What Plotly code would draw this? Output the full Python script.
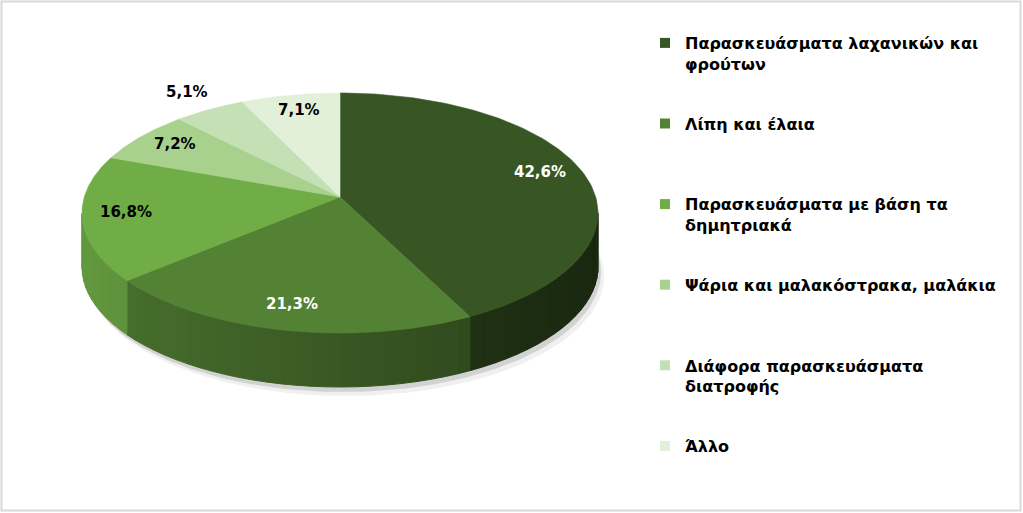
import numpy as np
import plotly.graph_objects as go

# data
categories = [
    "Παρασκευάσματα λαχανικών και<br>φρούτων",
    "Λίπη και έλαια",
    "Παρασκευάσματα με βάση τα<br>δημητριακά",
    "Ψάρια και μαλακόστρακα, μαλάκια",
    "Διάφορα παρασκευάσματα<br>διατροφής",
    "Άλλο",
]
shares = [42.6, 21.3, 16.8, 7.2, 5.1, 7.1]
colors = ["#375623", "#548235", "#70ad47", "#a9d18e", "#c5e0b4", "#e2f0d9"]

# geometry of the tilted pie, in pixels of the 1023x513 canvas
W, H = 1023, 513
CX, CY = 340, 213      # centre of the top ellipse
RX, RY = 258, 120
AX, AY = 340, 197      # where the slices meet (perspective shifts it up)
TILT = 0.465
DEPTH = 54
FONT = "DejaVu Sans"


def edge_point(t):
    """Point on the rim for a pie angle t (clockwise from 12 o'clock)."""
    dx, dy = np.sin(t), -TILT * np.cos(t)
    ox, oy = AX - CX, AY - CY
    a = (dx / RX) ** 2 + (dy / RY) ** 2
    b = 2 * (ox * dx / RX ** 2 + oy * dy / RY ** 2)
    c = (ox / RX) ** 2 + (oy / RY) ** 2 - 1
    s = (-b + np.sqrt(b * b - 4 * a * c)) / (2 * a)
    return AX + s * dx, AY + s * dy, s, dx, dy


def shade(hex_color, f):
    r, g, b = (int(hex_color[i:i + 2], 16) for i in (1, 3, 5))
    return f"rgb({int(r * f)},{int(g * f)},{int(b * f)})"


fig = go.Figure()

# soft shadow under the pie
phi = np.linspace(0, 2 * np.pi, 200)
for ox, oy, alpha in [(6, 9, 0.06), (3, 5, 0.12)]:
    fig.add_trace(go.Scatter(
        x=CX + RX * np.sin(phi) + ox, y=CY + DEPTH - RY * np.cos(phi) + oy,
        fill="toself", mode="lines", line=dict(width=0),
        fillcolor=f"rgba(0,0,0,{alpha})", hoverinfo="skip", showlegend=False,
    ))

total = sum(shares)
bounds = np.concatenate([[0], np.cumsum(shares)]) / total * 2 * np.pi

# outer side of the front half, shaded darker to the right
for i, col in enumerate(colors):
    t0, t1 = bounds[i], bounds[i + 1]
    n_chunks = max(1, int(np.ceil((t1 - t0) / np.radians(3))))
    edges = np.linspace(t0, t1, n_chunks + 1)
    for a, b in zip(edges[:-1], edges[1:]):
        ts = np.linspace(a, b, 8)
        xs, ys, *_ = edge_point(ts)
        keep = ys >= CY
        if keep.sum() < 2:
            continue
        xs, ys = xs[keep], ys[keep]
        f = 0.675 - 0.205 * (xs.mean() - CX) / RX
        c = shade(col, f)
        fig.add_trace(go.Scatter(
            x=np.concatenate([xs, xs[::-1], xs[:1]]),
            y=np.concatenate([ys, ys[::-1] + DEPTH, ys[:1]]),
            fill="toself", mode="lines", line=dict(width=1, color=c),
            fillcolor=c, hoverinfo="skip", showlegend=False,
        ))

# top faces
for i, col in enumerate(colors):
    ts = np.linspace(bounds[i], bounds[i + 1], 120)
    xs, ys, *_ = edge_point(ts)
    fig.add_trace(go.Scatter(
        x=np.concatenate([[AX], xs, [AX]]), y=np.concatenate([[AY], ys, [AY]]),
        fill="toself", mode="lines", line=dict(width=0.6, color=col),
        fillcolor=col, hoverinfo="skip", showlegend=False,
    ))

# percentage labels
for i, (v, col) in enumerate(zip(shares, colors)):
    tm = (bounds[i] + bounds[i + 1]) / 2
    _, _, s, dx, dy = edge_point(tm)
    frac = 0.83 if v >= 6 else 1.17
    r, g, b = (int(col[k:k + 2], 16) for k in (1, 3, 5))
    dark = 0.299 * r + 0.587 * g + 0.114 * b < 125
    fig.add_annotation(
        x=AX + frac * s * dx, y=AY + frac * s * dy - 3,
        text=f"{v:.1f}%".replace(".", ","), showarrow=False,
        font=dict(family=FONT, size=15, weight="bold",
                  color="white" if dark else "black"),
    )

# legend entries
for i, (name, col) in enumerate(zip(categories, colors)):
    label = name if "<br>" in name else name + "<br>\u00a0"
    fig.add_trace(go.Scatter(
        x=[None], y=[None], mode="markers", name=label, legendgroup=str(i),
        marker=dict(symbol="square", size=10, color=col),
    ))

fig.add_shape(type="rect", xref="x", yref="y", x0=1.5, y0=1.5, x1=W - 2.5, y1=H - 2.5,
              line=dict(color="#d9d9d9", width=2))

fig.update_layout(
    width=W, height=H,
    margin=dict(l=0, r=0, t=0, b=0),
    paper_bgcolor="white", plot_bgcolor="white",
    xaxis=dict(range=[0, W], visible=False, fixedrange=True),
    yaxis=dict(range=[H, 0], visible=False, fixedrange=True),
    showlegend=True,
    legend=dict(
        x=645 / W, y=1 - 26 / H, xanchor="left", yanchor="top",
        font=dict(family=FONT, size=16, weight="bold", color="black"),
        valign="top", tracegroupgap=36, itemwidth=30, bgcolor="rgba(0,0,0,0)",
    ),
)

fig.write_html("out.html", config={"displayModeBar": False},
               post_script="document.body.style.margin='0';")
